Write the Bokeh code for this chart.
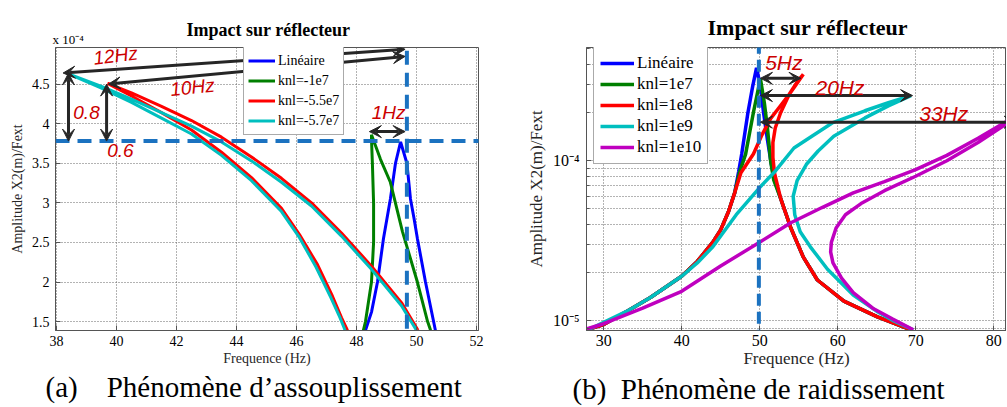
from bokeh.plotting import figure
from bokeh.models import Range1d, FixedTicker, Arrow, VeeHead, Label, Legend, LegendItem, Title
from bokeh.layouts import row
from bokeh.embed import file_html
from bokeh.resources import INLINE

SERIF = "Liberation Serif"
SANS = "Liberation Sans"

# ---------------- (a) softening : amplitude in units of 1e-4 ----------------
a_names = ["Linéaire", "knl=-1e7", "knl=-5.5e7", "knl=-5.7e7"]
a_lin_f = [48.30, 48.50, 48.70, 48.90, 49.13, 49.30, 49.47, 49.68, 49.80, 49.92, 50.03, 50.30, 50.63]
a_lin_a = [1.39, 1.62, 2.00, 2.55, 3.05, 3.50, 3.77, 3.50, 3.05, 2.80, 2.55, 2.00, 1.39]
a_k1_f = [48.23, 48.30, 48.50, 48.57, 48.57, 48.53, 48.50, 48.50, 48.80, 49.13, 49.53, 50.03, 50.37, 50.47]
a_k1_a = [1.39, 1.50, 2.00, 2.50, 3.00, 3.50, 3.80, 3.86, 3.55, 3.26, 2.64, 2.00, 1.50, 1.39]
a_k55_f = [47.70, 47.50, 47.20, 46.70, 46.10, 45.50, 44.50, 43.50, 42.50, 41.50, 40.50, 39.70,
           40.50, 41.50, 42.50, 43.50, 44.50, 45.50, 46.50, 47.50, 48.50, 49.50, 50.05]
a_k55_a = [1.39, 1.55, 1.82, 2.22, 2.60, 2.93, 3.32, 3.64, 3.92, 4.14, 4.35, 4.51,
           4.39, 4.22, 4.04, 3.83, 3.58, 3.31, 3.00, 2.62, 2.20, 1.74, 1.39]
a_k57_f = [47.62, 47.45, 47.15, 46.65, 46.10, 45.50, 44.50, 43.50, 42.50, 41.50, 40.50, 39.50, 38.40,
           39.50, 40.50, 41.50, 42.50, 43.50, 44.50, 45.50, 46.50, 47.50, 48.50, 49.50, 50.00]
a_k57_a = [1.39, 1.55, 1.80, 2.19, 2.56, 2.89, 3.28, 3.60, 3.87, 4.07, 4.27, 4.45, 4.63,
           4.47, 4.31, 4.14, 3.97, 3.77, 3.53, 3.26, 2.96, 2.58, 2.16, 1.70, 1.39]
a_xticks = [38, 40, 42, 44, 46, 48, 50, 52]
a_yticks = [1.5, 2, 2.5, 3, 3.5, 4, 4.5]
a_impact_f = 49.68
a_impact_amp = 3.78

# ---------------- (b) hardening ----------------
b_names = ["Linéaire", "knl=1e7", "knl=1e8", "knl=1e9", "knl=1e10"]
b_lin_f = [27.8, 30, 33, 36, 40, 42, 44, 45, 46, 46.8, 47.3, 47.7, 48.5, 49.1, 49.6,
           50.1, 50.5, 51.0, 51.5, 51.9, 52.7, 54.0, 55.6, 57.4, 60.8, 65.1, 69.4]
b_lin_a = [8.8e-6, 9.5e-6, 1.15e-5, 1.4e-5, 1.9e-5, 2.35e-5, 3.1e-5, 3.7e-5, 4.8e-5, 6.3e-5, 8.5e-5,
           1.1e-4, 2.0e-4, 2.9e-4, 3.8e-4,
           2.9e-4, 2.0e-4, 1.35e-4, 9.5e-5, 7.6e-5, 5.8e-5, 3.8e-5, 2.5e-5, 1.8e-5, 1.33e-5, 1.06e-5, 8.8e-6]
b_k7_f = [27.8, 30, 33, 36, 40, 42, 44, 45, 46, 46.8, 47.4, 48.2, 49.2, 50.1,
          50.6, 51.0, 51.4, 51.8, 52.7, 54.0, 55.6, 57.4, 60.8, 65.1, 69.4]
b_k7_a = [8.8e-6, 9.5e-6, 1.15e-5, 1.4e-5, 1.9e-5, 2.35e-5, 3.1e-5, 3.7e-5, 4.8e-5, 6.3e-5, 8.4e-5,
          1.1e-4, 2.0e-4, 3.25e-4,
          2.3e-4, 1.6e-4, 1.0e-4, 7.6e-5, 5.8e-5, 3.8e-5, 2.5e-5, 1.8e-5, 1.33e-5, 1.06e-5, 8.8e-6]
b_k8_f = [27.8, 30, 33, 36, 40, 42, 44, 45, 46, 46.8, 47.6, 49.2, 50.3, 51.4, 52.5, 53.6, 54.6, 55.6,
          55.0, 53.8, 52.7, 52.0, 51.7, 51.7, 51.9, 52.7, 54.0, 55.6, 57.4, 60.8, 65.1, 69.4]
b_k8_a = [8.8e-6, 9.5e-6, 1.15e-5, 1.4e-5, 1.9e-5, 2.35e-5, 3.1e-5, 3.7e-5, 4.8e-5, 6.3e-5, 8.4e-5,
          1.1e-4, 1.45e-4, 1.83e-4, 2.15e-4, 2.52e-4, 2.95e-4, 3.46e-4,
          3.2e-4, 2.6e-4, 2.0e-4, 1.6e-4, 1.3e-4, 1.05e-4, 8.4e-5, 5.8e-5, 3.8e-5, 2.5e-5, 1.8e-5,
          1.33e-5, 1.06e-5, 8.8e-6]
b_k9_f = [27.8, 30, 33, 36, 40, 42, 44, 47, 50, 52, 54.4, 56.5, 59.3, 63.5, 66.5, 69.4,
          66.5, 63.5, 59.5, 57.5, 56.0, 54.8, 54.3, 54.5, 55.2, 56.5, 58.7, 62, 65, 67.2, 69.7]
b_k9_a = [8.7e-6, 9.8e-6, 1.15e-5, 1.4e-5, 1.9e-5, 2.3e-5, 2.9e-5, 4.6e-5, 6.8e-5, 8.6e-5, 1.2e-4,
          1.4e-4, 1.72e-4, 2.05e-4, 2.3e-4, 2.55e-4,
          2.2e-4, 1.85e-4, 1.42e-4, 1.15e-4, 9.5e-5, 7.5e-5, 6.0e-5, 4.6e-5, 3.6e-5, 2.9e-5, 2.1e-5,
          1.45e-5, 1.15e-5, 1.0e-5, 8.8e-6]
b_k10_f = [27.8, 30, 35, 40, 45, 50, 54, 58, 62, 66, 70, 74, 78, 82, 84,
           82, 78, 74, 70, 66, 63, 61, 59.8, 59.2, 59.1, 59.4, 60.5, 62, 64.5, 67, 69.7]
b_k10_a = [8.9e-6, 9.6e-6, 1.2e-5, 1.53e-5, 2.2e-5, 3.1e-5, 4.1e-5, 5.1e-5, 6.3e-5, 7.4e-5, 8.8e-5,
           1.08e-4, 1.38e-4, 1.8e-4, 1.98e-4,
           1.74e-4, 1.3e-4, 1.0e-4, 8.0e-5, 6.5e-5, 5.4e-5, 4.6e-5, 3.8e-5, 3.1e-5, 2.7e-5, 2.3e-5,
           1.85e-5, 1.5e-5, 1.2e-5, 1.03e-5, 8.8e-6]
b_xticks = [30, 40, 50, 60, 70, 80]
b_yticks = [1e-5, 1e-4]
b_yminor = [9e-6, 2e-5, 3e-5, 4e-5, 5e-5, 6e-5, 7e-5, 8e-5, 9e-5, 2e-4, 3e-4, 4e-4, 5e-4]
b_impact_f = 49.9

COLORS = ["#0000ff", "#007f00", "#ff0000", "#00bfbf", "#bf00bf"]
DASH = "#1b72c0"
ARW = "#262626"
RED_TXT = "#cc0000"
NB = "\u00a0"


def style(p, tick_size, label_size):
    for ax in (p.xaxis[0], p.yaxis[0]):
        ax.axis_line_color = "#555555"
        ax.major_tick_line_color = "#555555"
        ax.major_tick_in = 5
        ax.major_tick_out = 0
        ax.minor_tick_line_color = None
        ax.major_label_text_font = SERIF
        ax.major_label_text_font_style = "normal"
        ax.major_label_text_font_size = tick_size
        ax.major_label_text_color = "#000000"
        ax.axis_label_text_font = SERIF
        ax.axis_label_text_font_size = label_size
        ax.axis_label_text_font_style = "normal"
        ax.axis_label_text_color = "#262626"
    p.grid.grid_line_color = "#666666"
    p.grid.grid_line_dash = "1 2"
    p.outline_line_color = "#555555"
    p.background_fill_color = "white"
    p.border_fill_color = "white"


def head():
    return VeeHead(size=12, fill_color=ARW, line_color=ARW, line_width=1)


def arrow(p, x0, y0, x1, y1):
    p.add_layout(Arrow(start=head(), end=head(), x_start=x0, y_start=y0, x_end=x1, y_end=y1,
                       line_color=ARW, line_width=3))


def dashed(p, x0, y0, x1, y1, dash):
    p.add_layout(Arrow(start=None, end=None, x_start=x0, y_start=y0, x_end=x1, y_end=y1,
                       line_color=DASH, line_width=4, line_dash=dash))


def label(p, x, y, text, size, angle=0):
    p.add_layout(Label(x=x, y=y, text=text, text_font=SANS, text_font_size=size, text_color=RED_TXT,
                       text_font_style="italic", text_align="center", text_baseline="middle",
                       angle=angle))


def title(p, text, side, size, offset, bold=False, standoff=0, valign=None):
    t = Title(text=text, align="left", offset=offset, text_font=SERIF, text_font_size=size,
              text_font_style="bold" if bold else "normal", text_color="#000000", standoff=0)
    try:
        t.standoff = standoff
    except Exception:
        t.standoff = 0
    if valign is not None:
        t.vertical_align = valign
    p.add_layout(t, side)


def legend(p, rends, names, loc, size, lh, gw, pad):
    return Legend(items=[LegendItem(label=n, renderers=[r]) for n, r in zip(names, rends)],
                  location=loc, label_text_font=SERIF, label_text_font_style="normal",
                  label_text_font_size=size, label_text_color="#000000",
                  label_height=lh, glyph_height=lh, glyph_width=gw, spacing=1, padding=pad, margin=0,
                  label_standoff=3, border_line_color="#555555", background_fill_alpha=1)


# ================= figure (a) =================
p1 = figure(width=500, height=406, x_range=Range1d(37.967, 52.067), y_range=Range1d(1.3875, 4.9625),
            output_backend="svg", toolbar_location=None, title=None,
            min_border_left=55, min_border_right=22, min_border_top=47, min_border_bottom=76)
style(p1, "14px", "14px")
p1.xaxis.ticker = FixedTicker(ticks=a_xticks)
p1.yaxis.ticker = FixedTicker(ticks=a_yticks)
p1.yaxis.major_label_overrides = {t: str(t) for t in a_yticks}
p1.xaxis.axis_label = "Frequence (Hz)"
p1.yaxis.axis_label = "Amplitude X2(m)/Fext"
p1.xaxis.major_label_standoff = 5
p1.xaxis.axis_label_standoff = 2
p1.yaxis.major_label_standoff = 6
p1.yaxis.axis_label_standoff = 4

a_series = [(a_lin_f, a_lin_a), (a_k1_f, a_k1_a), (a_k55_f, a_k55_a), (a_k57_f, a_k57_a)]
a_rends = []
for (f, a), c in zip(a_series, COLORS):
    a_rends.append(p1.line(f, a, line_color=c, line_width=3))

dashed(p1, 37.967, a_impact_amp, 52.37, a_impact_amp, "14 8")
dashed(p1, a_impact_f, 5.2, a_impact_f, 1.3875, "14 8")
arrow(p1, 38.22, 4.64, 49.62, 4.94)
arrow(p1, 39.73, 4.5, 49.62, 4.85)
arrow(p1, 38.4, 4.64, 38.4, a_impact_amp)
arrow(p1, 39.67, 4.5, 39.67, a_impact_amp)
arrow(p1, 48.43, 3.9, 49.62, 3.9)

p1.add_layout(legend(p1, a_rends, a_names, (188, 195), "14px", 19, 27, 4))

label(p1, 39.97, 4.86, "12Hz", "19px", angle=0.12)
label(p1, 42.53, 4.46, "10Hz", "19px", angle=0.1)
label(p1, 39.0, 4.14, "0.8", "19px")
label(p1, 40.13, 3.66, "0.6", "19px")
label(p1, 49.07, 4.14, "1Hz", "19px")

title(p1, "x 10⁻⁴", "above", "13px", -3, standoff=2)
title(p1, "Impact sur réflecteur", "above", "18px", 131, bold=True, standoff=-22)
title(p1, "(a)" + NB * 4 + "Phénomène d’assouplissement", "below", "29px", -10, standoff=0)

# ================= figure (b) =================
p2 = figure(width=506, height=406, x_range=Range1d(27.8, 81.65), y_range=Range1d(8.71e-6, 5.09e-4),
            y_axis_type="log", output_backend="svg", toolbar_location=None, title=None,
            min_border_left=86, min_border_right=0, min_border_top=39, min_border_bottom=72)
style(p2, "16px", "17px")
p2.xaxis.ticker = FixedTicker(ticks=b_xticks)
p2.yaxis.ticker = FixedTicker(ticks=b_yticks, minor_ticks=b_yminor)
p2.yaxis.major_label_overrides = {1e-5: "10⁻⁵", 1e-4: "10⁻⁴"}
p2.yaxis.minor_tick_line_color = "#555555"
p2.yaxis.minor_tick_in = 3
p2.yaxis.minor_tick_out = 0
p2.ygrid.minor_grid_line_color = "#666666"
p2.ygrid.minor_grid_line_dash = "1 2"
p2.xaxis.axis_label = "Frequence (Hz)"
p2.yaxis.axis_label = "Amplitude X2(m)/Fext"
p2.xaxis.major_label_standoff = 4
p2.xaxis.axis_label_standoff = 0
p2.yaxis.major_label_standoff = 7
p2.yaxis.axis_label_standoff = 4

b_series = [(b_lin_f, b_lin_a), (b_k7_f, b_k7_a), (b_k8_f, b_k8_a), (b_k9_f, b_k9_a), (b_k10_f, b_k10_a)]
b_rends = []
for (f, a), c in zip(b_series, COLORS):
    b_rends.append(p2.line(f, a, line_color=c, line_width=3.5))

dashed(p2, b_impact_f, 5.53e-4, b_impact_f, 8.71e-6, "12 6")
arrow(p2, 50.1, 3.27e-4, 55.3, 3.27e-4)
arrow(p2, 50.1, 2.55e-4, 69.6, 2.55e-4)
arrow(p2, 50.1, 1.74e-4, 82.9, 1.74e-4)

p2.add_layout(legend(p2, b_rends, b_names, (7, 166), "17px", 20, 34, 6))

label(p2, 53.1, 4.08e-4, "5Hz", "21px")
label(p2, 60.3, 2.85e-4, "20Hz", "21px")
label(p2, 73.6, 1.96e-4, "33Hz", "21px")

title(p2, "Impact sur réflecteur", "above", "22px", 121, bold=True, standoff=12, valign="top")
title(p2, "(b)" + NB * 2 + "Phénomène de raidissement", "below", "29px", -14, standoff=0)

layout = row(p1, p2)
open("out.html", "w").write(file_html(layout, INLINE))
